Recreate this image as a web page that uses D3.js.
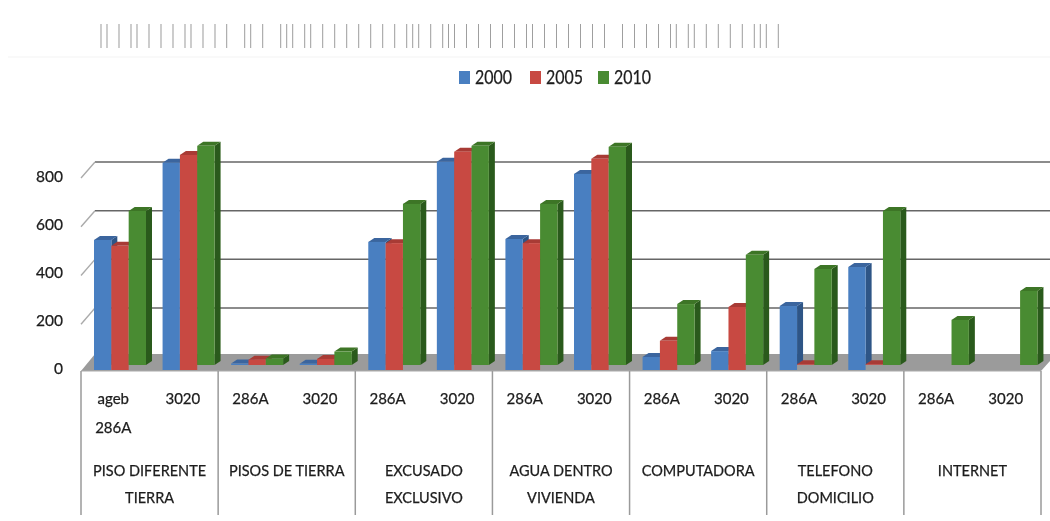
<!DOCTYPE html>
<html><head><meta charset="utf-8">
<style>html,body{margin:0;padding:0;background:#fff;overflow:hidden}svg{display:block}
text{font-family:Lato,"Open Sans",sans-serif;fill:#1c1c1c;stroke:#1c1c1c;stroke-width:0.25px}</style>
<script src="https://cdn.jsdelivr.net/npm/d3@7"></script></head><body><script>
const years=["2000","2005","2010"];
const categories=[["PISO DIFERENTE","TIERRA"],["PISOS DE TIERRA"],["EXCUSADO","EXCLUSIVO"],["AGUA DENTRO","VIVIENDA"],["COMPUTADORA"],["TELEFONO","DOMICILIO"],["INTERNET"]];
const subLabels=[["ageb","286A"],["3020"],["286A"],["3020"],["286A"],["3020"],["286A"],["3020"],["286A"],["3020"],["286A"],["3020"],["286A"],["3020"]];
const values2000=[513,830,6,5,505,834,517,784,33,57,242,402,null,null];
const values2005=[489,862,22,25,500,875,500,846,99,238,3,3,null,null];
const values2010=[632,899,27,55,661,899,661,895,250,452,394,632,185,304];
const yTicks=[0,200,400,600,800];
const titleStrokes="|| | || | | | || | | |  || |  ||| || | | | | | | | ||| | ||| | | | | | || | | | | | |  | | | | || || | | | | ||| |";
const series=[values2000,values2005,values2010];
const colors=[{f:"#4a7fc1",t:"#3a659e",s:"#2f5586"},{f:"#c84a42",t:"#a83a34",s:"#8f2f2a"},{f:"#4a8b30",t:"#3c7426",s:"#2b5a1a"}];

const W=1050,H=521,dx=6,dy=4;
const svg=d3.select("body").append("svg").attr("width",W).attr("height",H);
const defs=svg.append("defs");
defs.append("filter").attr("id","soft").attr("x","-2%").attr("y","-2%").attr("width","104%").attr("height","104%")
  .append("feGaussianBlur").attr("stdDeviation",0.7);
const root=svg.append("g").attr("filter","url(#soft)");

const x=d3.scaleBand().domain(d3.range(14)).range([81,1041]);
const xs=d3.scaleBand().domain(d3.range(3)).range([0,52]);
const inset=13;
const yBar=d3.scaleLinear().domain([0,800]).range([365,170]);
const yWall=d3.scaleLinear().domain([0,800]).range([356.7,162]);
const yFront=d3.scaleLinear().domain([0,800]).range([373,178]);
const yLabel=d3.scaleLinear().domain([0,800]).range([369,177]);

// title strip
root.append("text").attr("transform","translate(98,43) scale(1,2.5)")
  .style("font-family","'Liberation Mono',monospace").style("font-size","10px").style("fill","#8a8a8a").style("stroke","none")
  .style("white-space","pre").text(titleStrokes);
root.append("line").attr("x1",8).attr("x2",1050).attr("y1",57).attr("y2",57).attr("stroke","#f3f3f3");

// legend
const legX=d3.scaleOrdinal().domain(years).range([459,530,598]);
years.forEach((yr,i)=>{
  root.append("rect").attr("x",legX(yr)).attr("y",71).attr("width",11).attr("height",13).attr("fill",colors[i].f);
  root.append("text").attr("x",legX(yr)+16).attr("y",84).style("font-size","20px")
    .attr("textLength",37).attr("lengthAdjust","spacingAndGlyphs").text(yr);
});

// floor and wall
root.append("path").attr("d",`M81,371L95,354L1050,354L1050,361L1041,371Z`).attr("fill","#9b9b9b");
root.selectAll("line.grid").data(yTicks.slice(1)).join("line").attr("class","grid")
  .attr("x1",95).attr("x2",W).attr("y1",yWall).attr("y2",yWall).attr("stroke","#666").attr("stroke-width",1.5);
root.selectAll("line.diag").data(yTicks.slice(1)).join("line").attr("class","diag")
  .attr("x1",81).attr("x2",95).attr("y1",yFront).attr("y2",yWall).attr("stroke","#aaa").attr("stroke-width",1.4);

// y axis labels
const ax=d3.axisLeft(yLabel).tickValues(yTicks).tickSize(0).tickPadding(0);
const axG=root.append("g").attr("transform","translate(63,0)").call(ax);
axG.select(".domain").remove();
axG.selectAll("text").style("font-size","15.5px").style("font-family","Lato,sans-serif");

// bars
const baseDrop=[5,5,0];
d3.range(14).forEach(i=>{
  const g=root.append("g");
  series.forEach((vals,s)=>{
    const v=vals[i]; if(v==null) return;
    const bx=x(i)+inset+xs(s), w=xs.bandwidth(), t=yBar(v), b=yBar(0), c=colors[s];
    g.append("path").attr("d",`M${bx+w},${t}L${bx+w+dx},${t-dy}L${bx+w+dx},${b-dy}L${bx+w},${b}Z`).attr("fill",c.s);
    g.append("path").attr("d",`M${bx},${t}L${bx+dx},${t-dy}L${bx+w+dx},${t-dy}L${bx+w},${t}Z`).attr("fill",c.t);
    g.append("rect").attr("x",bx).attr("y",t).attr("width",w).attr("height",b-t+(v>=30?baseDrop[s]:0)).attr("fill",c.f);
  });
});

// category table
root.append("line").attr("x1",81).attr("x2",1041).attr("y1",371).attr("y2",371).attr("stroke","#aaa");
root.selectAll("line.div").data(d3.range(8)).join("line").attr("class","div")
  .attr("x1",d=>d<7?x(d*2):1041).attr("x2",d=>d<7?x(d*2):1041).attr("y1",371).attr("y2",515)
  .attr("stroke","#9a9a9a").attr("stroke-width",1.5);
subLabels.forEach((ls,i)=>{
  ls.forEach((t,k)=>root.append("text").attr("x",x(i)+x.bandwidth()/2+(i%2?-1:-2)).attr("y",404+k*29)
    .attr("text-anchor","middle").style("font-size","15px").text(t));
});
categories.forEach((ls,i)=>{
  ls.forEach((t,k)=>root.append("text").attr("x",x(i*2)+x.bandwidth()).attr("y",476+k*27)
    .attr("text-anchor","middle").style("font-size","14.5px").text(t));
});
</script></body></html>
